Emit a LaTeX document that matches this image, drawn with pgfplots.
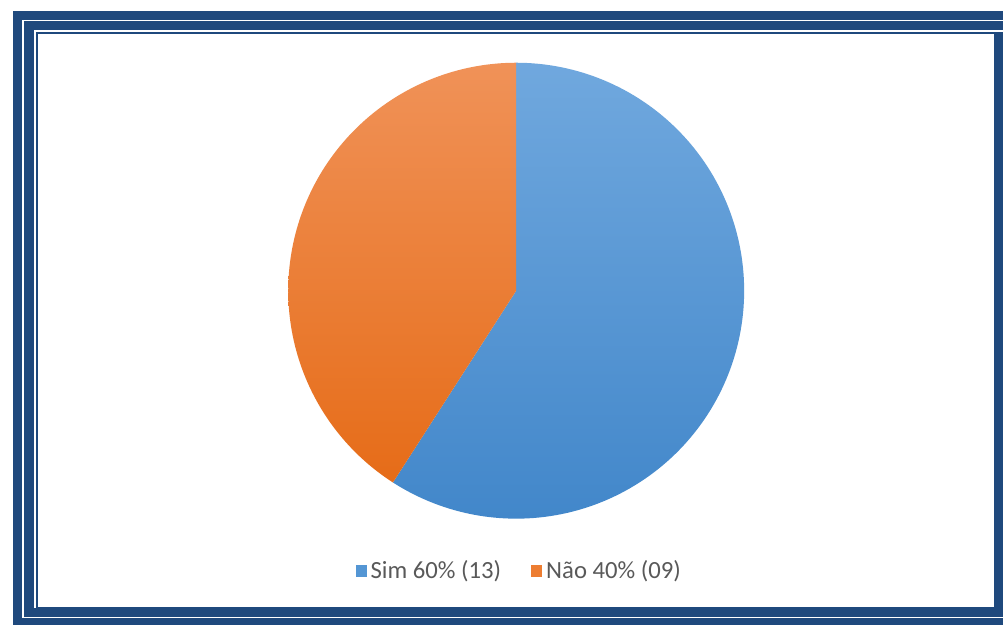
\documentclass[border=0pt]{standalone}
\usepackage{pgfplots}
\pgfplotsset{compat=1.18}
\usepackage{pgfplotstable}
\usepackage{fontspec}
\setmainfont{Carlito}
\definecolor{frameblue}{RGB}{31,73,125}
\definecolor{simtop}{RGB}{112,168,222}
\definecolor{simbot}{RGB}{66,135,202}
\definecolor{simleg}{RGB}{84,150,212}
\definecolor{naotop}{RGB}{240,146,88}
\definecolor{naobot}{RGB}{230,108,24}
\definecolor{naoleg}{RGB}{237,125,49}
\definecolor{textgray}{RGB}{89,89,89}
\pgfplotstableread{
label value
Sim 13
Nao 9
}\piedata
\begin{document}
\pgfplotstablegetelem{0}{value}\of\piedata \let\vSim\pgfplotsretval
\pgfplotstablegetelem{1}{value}\of\piedata \let\vNao\pgfplotsretval
\pgfmathsetmacro\aSim{360*\vSim/(\vSim+\vNao)}
\begin{tikzpicture}
\begin{axis}[width=501.5pt,height=314pt,scale only axis,
  xmin=0,xmax=1003,ymin=0,ymax=628,y dir=reverse,
  hide axis, clip=false,
  legend style={at={(axis cs:518,574)}, anchor=center, draw=none, fill=none,
    legend columns=2, font=\fontsize{12.4}{14}\selectfont, text=textgray,
    /tikz/every even column/.append style={column sep=13pt}},
  legend cell align=left]
\path (axis cs:0,0) rectangle (axis cs:1003,628);
% frame
\fill[frameblue] (axis cs:9,11) rectangle (axis cs:1003,628);
\fill[white] (axis cs:18,20) rectangle (axis cs:1003,621);
\fill[frameblue] (axis cs:20,21) rectangle (axis cs:1003,620);
\fill[white] (axis cs:30,30) rectangle (axis cs:1003,611);
\fill[frameblue] (axis cs:32,32) rectangle (axis cs:1003,611);
\fill[white] (axis cs:34,34) rectangle (axis cs:994,610);
% pie
\addplot[draw=none, top color=simtop, bottom color=simbot, domain=0:\aSim,
  samples=150, variable=\t, forget plot]
  ({514+229*sin(t)},{292-229*cos(t)}) -- (axis cs:514,292) -- cycle;
\addplot[draw=none, top color=naotop, bottom color=naobot, domain=\aSim:360,
  samples=120, variable=\t, forget plot]
  ({514+229*sin(t)},{292-229*cos(t)}) -- (axis cs:514,292) -- cycle;
\addlegendimage{legend image code/.code={\fill[simleg] (0pt,-2.4pt) rectangle (5.2pt,2.8pt);}}
\addlegendentry{Sim 60\% (13)}
\addlegendimage{legend image code/.code={\fill[naoleg] (0pt,-2.4pt) rectangle (5.2pt,2.8pt);}}
\addlegendentry{Não 40\% (09)}
\end{axis}
\end{tikzpicture}
\end{document}
